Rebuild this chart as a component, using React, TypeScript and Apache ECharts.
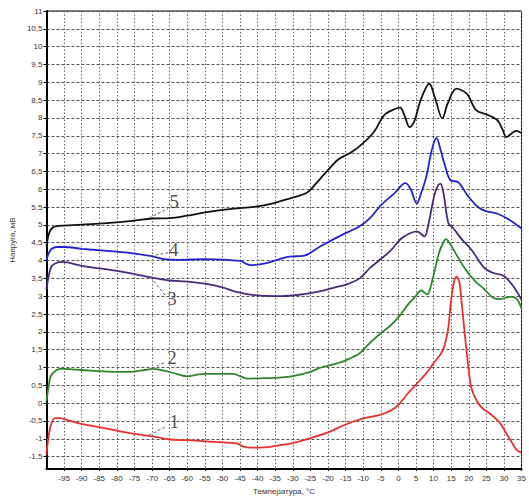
import React, { useEffect, useRef } from "react";
import * as echarts from "echarts";

const curve1: number[][] = [
  [-100, -1.45], [-99.5, -1.0], [-98.7, -0.6], [-97.6, -0.42], [-96, -0.42], [-95, -0.45],
  [-90, -0.58], [-85, -0.67], [-80, -0.77], [-75, -0.86], [-70, -0.93], [-65, -1.02],
  [-60, -1.04], [-55, -1.07], [-50, -1.1], [-46, -1.13], [-44, -1.22], [-42, -1.25],
  [-38, -1.24], [-35, -1.2], [-30, -1.12], [-25, -0.98], [-20, -0.82], [-15, -0.6],
  [-10, -0.43], [-5, -0.32], [-2, -0.2], [0, -0.05], [2.5, 0.25], [5, 0.52], [8, 0.85],
  [10, 1.12], [12.5, 1.46], [14, 2.0], [15, 2.9], [15.8, 3.4], [16.5, 3.55], [17.3, 3.4],
  [18, 2.8], [18.8, 2.0], [19.7, 1.18], [20.7, 0.45], [22.4, 0.04], [24, -0.15],
  [26, -0.29], [28.9, -0.56], [30.6, -0.84], [32, -1.06], [33.5, -1.3], [35, -1.4],
];

const curve2: number[][] = [
  [-100, 0.05], [-99.5, 0.4], [-98.8, 0.75], [-97.5, 0.9], [-96, 0.96], [-95, 0.96],
  [-90, 0.93], [-85, 0.9], [-80, 0.88], [-76, 0.88], [-72, 0.93], [-70, 0.96], [-67, 0.92],
  [-63, 0.82], [-60, 0.75], [-57, 0.8], [-55, 0.82], [-47, 0.82], [-45, 0.76], [-43, 0.69],
  [-38, 0.7], [-35, 0.71], [-30, 0.76], [-25, 0.88], [-22, 1.0], [-18, 1.1], [-15, 1.2],
  [-11, 1.4], [-8, 1.7], [-5.5, 1.92], [-2, 2.2], [0.5, 2.47], [3, 2.8], [4.5, 2.95],
  [6.5, 3.16], [8.2, 3.05], [9, 3.2], [10.2, 3.67], [11.5, 4.2], [12.5, 4.45], [13.5, 4.6],
  [14.5, 4.5], [16, 4.25], [19, 3.76], [22, 3.4], [24.3, 3.21], [27, 2.95], [29, 2.92],
  [31.6, 2.98], [33.5, 2.94], [35, 2.65],
];

const curve3: number[][] = [
  [-100, 3.2], [-99.3, 3.6], [-98.5, 3.85], [-97, 3.94], [-95.5, 3.96], [-90, 3.85],
  [-85, 3.78], [-80, 3.71], [-75, 3.62], [-70, 3.52], [-65, 3.44], [-60, 3.41], [-55, 3.35],
  [-50, 3.25], [-46, 3.12], [-41, 3.03], [-35, 3.0], [-30, 3.02], [-23, 3.12], [-18, 3.25],
  [-15, 3.32], [-11, 3.5], [-8, 3.8], [-5.5, 4.0], [-2, 4.3], [0.5, 4.59], [3, 4.75],
  [5.2, 4.82], [7.4, 4.68], [8.5, 5.0], [10.1, 5.78], [11.2, 6.1], [12, 6.15], [12.8, 5.9],
  [14.2, 5.05], [15.5, 4.92], [18, 4.6], [20.7, 4.31], [24.3, 3.81], [27, 3.65],
  [29.8, 3.58], [32.5, 3.3], [35, 2.9],
];

const curve4: number[][] = [
  [-100, 4.0], [-99.4, 4.2], [-98.5, 4.33], [-97, 4.38], [-95, 4.38], [-90, 4.33],
  [-87.7, 4.31], [-80, 4.25], [-76.8, 4.22], [-70.5, 4.13], [-66, 4.03], [-63, 4.02],
  [-55, 4.04], [-45, 3.99], [-43.5, 3.92], [-42, 3.87], [-37.5, 3.93], [-31, 4.11],
  [-27, 4.13], [-22, 4.41], [-16, 4.72], [-11, 4.96], [-8, 5.2], [-5, 5.55], [-1, 5.9],
  [2, 6.17], [3.5, 6.0], [5.2, 5.6], [6.5, 5.9], [7.9, 6.34], [9.5, 7.1], [10.8, 7.44],
  [12, 7.1], [13.4, 6.61], [14.8, 6.25], [17, 6.2], [19.5, 5.85], [22.5, 5.51], [25, 5.38],
  [28, 5.32], [31.6, 5.14], [35, 4.9],
];

const curve5: number[][] = [
  [-100, 4.4], [-99.3, 4.75], [-98.3, 4.92], [-96.5, 4.97], [-95, 4.98], [-90, 5.01],
  [-83, 5.05], [-75, 5.12], [-70, 5.18], [-65, 5.19], [-60, 5.26], [-55, 5.35], [-50, 5.42],
  [-45, 5.47], [-40, 5.52], [-35, 5.62], [-31, 5.74], [-26, 5.9], [-23.5, 6.15], [-21, 6.43],
  [-17, 6.84], [-14, 7.0], [-11, 7.21], [-7, 7.6], [-4, 8.08], [-1, 8.25], [0.5, 8.29],
  [1.8, 8.05], [3.2, 7.74], [4.5, 7.9], [6.5, 8.55], [8.8, 8.96], [10.3, 8.6], [12.5, 7.99],
  [14, 8.4], [16.5, 8.82], [18.5, 8.75], [19.8, 8.64], [22.1, 8.22], [25, 8.1], [28, 7.95],
  [29.5, 7.7], [30.7, 7.46], [32, 7.55], [33.4, 7.64], [35, 7.58],
];

const curveColors = ["#e8302c", "#2a8a2a", "#4a2a7c", "#2222d4", "#111111"];

// annotation labels: [x, y, text]
const labelPoints: (number | string)[][] = [
  [-63.7, 5.67, "5"],
  [-63.8, 4.31, "4"],
  [-64.3, 2.94, "3"],
  [-64.3, 1.29, "2"],
  [-63.7, -0.51, "1"],
];

// leader lines: [x1, y1, x2, y2]
const leaders: number[][] = [
  [-70.9, 5.19, -65.4, 5.46],
  [-70.4, 4.13, -65.4, 4.22],
  [-70.4, 3.53, -66.3, 3.03],
  [-71.3, 0.93, -66.3, 1.14],
  [-70.9, -0.9, -65.8, -0.65],
];

const yTicks = [-1.5, -1, -0.5, 0, 0.5, 1, 1.5, 2, 2.5, 3, 3.5, 4, 4.5, 5, 5.5, 6, 6.5, 7, 7.5, 8, 8.5, 9, 9.5, 10, 10.5, 11];

const X_MIN = -100;
const X_MAX = 35;
const Y_MIN = -1.85;
const Y_MAX = 11;

export default function App() {
  const ref = useRef<HTMLDivElement>(null);

  useEffect(() => {
    if (!ref.current) return;
    const chart = echarts.init(ref.current, undefined, { renderer: "svg" });
    const curves = [curve1, curve2, curve3, curve4, curve5];
    const labelFont = "'Liberation Sans', Arial, sans-serif";

    chart.setOption({
      animation: false,
      grid: {
        left: 35,
        top: 11,
        right: 2,
        bottom: 23.5,
        show: true,
        borderColor: "#000",
        borderWidth: 1,
      },
      xAxis: {
        type: "value",
        min: X_MIN,
        max: X_MAX,
        interval: 5,
        name: "Температура, °C",
        nameLocation: "middle",
        nameGap: 14,
        nameTextStyle: { fontSize: 8, color: "#333", fontFamily: labelFont },
        axisLine: { show: true, onZero: false, lineStyle: { color: "#000", width: 2 } },
        axisTick: { show: true, length: 2, lineStyle: { color: "#000" } },
        axisLabel: {
          fontSize: 8,
          color: "#333",
          fontFamily: labelFont,
          margin: 5,
          showMinLabel: false,
        },
        splitLine: {
          show: true,
          lineStyle: { color: "#666", type: [1.5, 2], width: 1 },
        },
      },
      yAxis: {
        type: "value",
        min: Y_MIN,
        max: Y_MAX,
        name: "Напруга, мВ",
        nameLocation: "middle",
        nameGap: 24,
        nameTextStyle: { fontSize: 8, color: "#333", fontFamily: labelFont },
        axisLine: { show: true, onZero: false, lineStyle: { color: "#000", width: 2 } },
        axisTick: { show: true, length: 3, customValues: yTicks, lineStyle: { color: "#000" } },
        axisLabel: {
          fontSize: 8,
          color: "#333",
          fontFamily: labelFont,
          margin: 4,
          customValues: yTicks,
          formatter: (v: number) => String(v).replace(".", ","),
        },
        splitLine: {
          show: true,
          lineStyle: { color: "#555", type: [3, 2], width: 1 },
        },
      },
      series: [
        ...curves.map((c, i) => ({
          type: "line",
          data: c,
          smooth: 0.35,
          showSymbol: false,
          symbol: "none",
          lineStyle: { color: curveColors[i], width: 1.8 },
          silent: true,
          z: 3,
        })),
        {
          type: "scatter",
          data: labelPoints,
          symbolSize: 0,
          silent: true,
          z: 4,
          label: {
            show: true,
            position: "inside",
            formatter: (p: any) => String(p.value[2]),
            fontFamily: "'Liberation Serif', 'Times New Roman', serif",
            fontSize: 19,
            color: "#222",
          },
          markLine: {
            silent: true,
            symbol: ["none", "none"],
            label: { show: false },
            lineStyle: { color: "#666", type: [3, 2], width: 1 },
            data: leaders.map((l) => [{ coord: [l[0], l[1]] }, { coord: [l[2], l[3]] }]),
          },
        },
      ],
    });

    return () => chart.dispose();
  }, []);

  return <div ref={ref} style={{ width: 529, height: 500, position: "absolute", left: 0, top: 0 }} />;
}
